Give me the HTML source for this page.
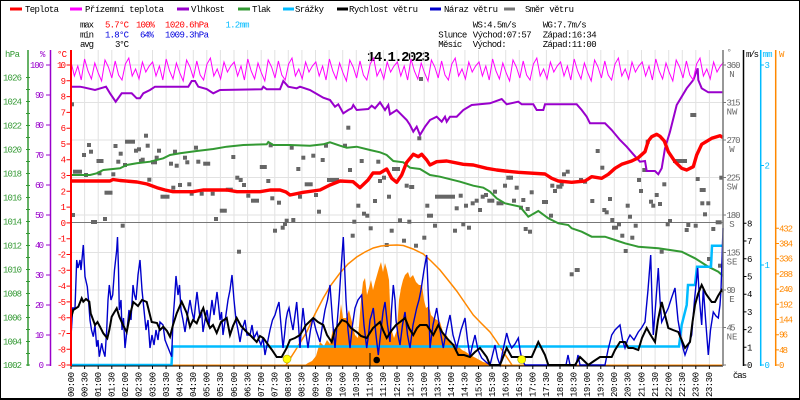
<!DOCTYPE html>
<html><head><meta charset="utf-8"><style>
html,body{margin:0;padding:0;background:#fff;}
svg{display:block;}
text{font-family:"Liberation Mono","DejaVu Sans Mono",monospace;font-size:9px;}
</style></head><body>
<svg width="800" height="400" viewBox="0 0 800 400" xmlns="http://www.w3.org/2000/svg">
<rect x="0" y="0" width="800" height="400" fill="#fff"/>
<!-- legend -->
<g>
<rect x="10" y="7.5" width="12" height="3" fill="#ff0000"/><text x="25" y="12" textLength="34">Teplota</text>
<rect x="70" y="7.5" width="12" height="3" fill="#ff00ff"/><text x="85" y="12" textLength="79">Přízemní teplota</text>
<rect x="177" y="7.5" width="12" height="3" fill="#9900cc"/><text x="191" y="12" textLength="34">Vlhkost</text>
<rect x="238" y="7.5" width="12" height="3" fill="#339933"/><text x="252" y="12" textLength="19">Tlak</text>
<rect x="283" y="7.5" width="11" height="3" fill="#00bbff"/><text x="295" y="12" textLength="29">Srážky</text>
<rect x="337" y="7.5" width="11" height="3" fill="#000"/><text x="349" y="12" textLength="69">Rychlost větru</text>
<rect x="430" y="7.5" width="11" height="3" fill="#0000cc"/><text x="444" y="12" textLength="54">Náraz větru</text>
<rect x="504" y="7.5" width="11" height="3" fill="#777"/><text x="525" y="12" textLength="49">Směr větru</text>
</g>
<!-- stats -->
<g>
<text x="80" y="27.3" textLength="14">max</text>
<text x="105" y="27.3" textLength="24" fill="#ff0000">5.7°C</text>
<text x="136" y="27.3" textLength="19" fill="#ff0000">100%</text>
<text x="165" y="27.3" textLength="44" fill="#ff0000">1020.6hPa</text>
<text x="225.5" y="27.3" textLength="24" fill="#00bbff">1.2mm</text>
<text x="80" y="37.3" textLength="14">min</text>
<text x="105" y="37.3" textLength="24" fill="#0000dd">1.8°C</text>
<text x="140" y="37.3" textLength="14" fill="#0000dd">64%</text>
<text x="165" y="37.3" textLength="44" fill="#0000dd">1009.3hPa</text>
<text x="80" y="46.8" textLength="14">avg</text>
<text x="115" y="46.8" textLength="14">3°C</text>
<text x="472.7" y="27.3" textLength="44">WS:4.5m/s</text>
<text x="542.7" y="27.3" textLength="44">WG:7.7m/s</text>
<text x="438.3" y="37.3" textLength="29">Slunce</text>
<text x="472.7" y="37.3" textLength="59">Východ:07:57</text>
<text x="542.7" y="37.3" textLength="54">Západ:16:34</text>
<text x="438.3" y="46.8" textLength="24">Měsíc</text>
<text x="472.7" y="46.8" textLength="34">Východ:</text>
<text x="542.7" y="46.8" textLength="54">Západ:11:00</text>
</g>
<text x="367" y="61" textLength="63" style="font-size:14px;font-weight:bold">14.1.2023</text>
<!-- unit headers -->
<text x="5" y="57" textLength="15" fill="#339933">hPa</text>
<text x="40" y="57" textLength="5" fill="#9900cc">%</text>
<text x="57" y="57" textLength="10" fill="#ff0000">°C</text>
<text x="726.5" y="55" fill="#777">°</text>
<text x="746" y="57" textLength="13">m/s</text>
<text x="762.5" y="57" textLength="10" fill="#00bbff">mm</text>
<text x="779" y="57" textLength="5" fill="#ff8800">W</text>
<!-- grid -->
<g stroke="#e2e2e2" stroke-width="1">
<path d="M84.6,50V365M98.2,50V365M111.8,50V365M125.3,50V365M138.9,50V365M152.5,50V365M166.1,50V365M179.7,50V365M193.3,50V365M206.8,50V365M220.4,50V365M234,50V365M247.6,50V365M261.2,50V365M274.8,50V365M288.3,50V365M301.9,50V365M315.5,50V365M329.1,50V365M342.7,50V365M356.3,50V365M369.8,50V365M383.4,50V365M397,50V365M410.6,50V365M424.2,50V365M437.8,50V365M451.3,50V365M464.9,50V365M478.5,50V365M492.1,50V365M505.7,50V365M519.3,50V365M532.8,50V365M546.4,50V365M560,50V365M573.6,50V365M587.2,50V365M600.8,50V365M614.3,50V365M627.9,50V365M641.5,50V365M655.1,50V365M668.7,50V365M682.3,50V365M695.8,50V365M709.4,50V365"/>
<path d="M71,65H723M71,102.5H723M71,140H723M71,177.5H723M71,215H723M71,252.5H723M71,290H723M71,327.5H723"/>
</g>
<path d="M71,222.5H723" stroke="#777" stroke-width="1"/>
<!-- wind direction squares -->
<g fill="#666">
<rect x="70" y="102.3" width="4" height="4"/><rect x="71" y="213" width="4" height="4"/><rect x="73" y="169.7" width="9" height="4"/><rect x="84" y="173" width="4" height="4"/><rect x="82" y="153" width="4" height="4"/><rect x="87" y="143" width="4" height="4"/><rect x="89" y="149.7" width="4" height="4"/><rect x="91" y="220" width="6" height="4"/><rect x="97.5" y="171.3" width="4" height="4"/><rect x="96.5" y="159" width="7" height="4"/><rect x="103" y="217" width="4" height="4"/><rect x="104.5" y="190.7" width="8" height="4"/><rect x="111.3" y="172.3" width="4" height="4"/><rect x="113.5" y="144" width="4" height="4"/><rect x="116.3" y="159.7" width="4" height="4"/><rect x="118.7" y="151.7" width="4" height="4"/><rect x="120.7" y="223.7" width="4" height="4"/><rect x="123" y="163" width="4" height="4"/><rect x="125" y="139.7" width="10" height="4"/><rect x="134" y="148.7" width="4" height="4"/><rect x="137" y="147.3" width="4" height="4"/><rect x="139" y="159" width="4" height="4"/><rect x="140.7" y="157.7" width="4" height="4"/><rect x="144" y="133.7" width="4" height="4"/><rect x="145.7" y="143.7" width="4" height="4"/><rect x="147.3" y="177.7" width="4" height="4"/><rect x="151" y="160.3" width="6" height="4"/><rect x="154.7" y="155.7" width="4" height="4"/><rect x="157" y="148.7" width="4" height="4"/><rect x="160.5" y="194.7" width="9" height="4"/><rect x="169" y="161.7" width="4" height="4"/><rect x="171.3" y="185.7" width="4" height="4"/><rect x="173" y="149.7" width="4" height="4"/><rect x="174.7" y="163.7" width="4" height="4"/><rect x="178" y="183" width="4" height="4"/><rect x="183" y="155.7" width="4" height="4"/><rect x="185.3" y="160.3" width="4" height="4"/><rect x="187.3" y="182.3" width="4" height="4"/><rect x="189.7" y="191.7" width="4" height="4"/><rect x="194" y="145.7" width="4" height="4"/><rect x="196.3" y="159.7" width="4" height="4"/><rect x="199.7" y="191.7" width="4" height="4"/><rect x="203.2" y="161.7" width="7" height="4"/><rect x="210.7" y="191.7" width="4" height="4"/><rect x="214" y="217" width="4" height="4"/><rect x="219.8" y="208.7" width="7" height="4"/><rect x="225.8" y="187.7" width="7" height="4"/><rect x="231.3" y="155" width="4" height="4"/><rect x="235.3" y="175.7" width="4" height="4"/><rect x="238.7" y="178" width="4" height="4"/><rect x="237" y="249.7" width="4" height="4"/><rect x="242" y="183" width="4" height="4"/><rect x="246.3" y="193.7" width="4" height="4"/><rect x="251" y="198.7" width="8" height="4"/><rect x="259.8" y="165" width="7" height="4"/><rect x="266.3" y="179" width="4" height="4"/><rect x="268.7" y="143.3" width="4" height="4"/><rect x="270.3" y="196.3" width="4" height="4"/><rect x="273" y="228.7" width="4" height="4"/><rect x="277" y="200.7" width="4" height="4"/><rect x="280.7" y="225.7" width="4" height="4"/><rect x="283" y="222" width="4" height="4"/><rect x="284.7" y="218.7" width="4" height="4"/>
<rect x="289.7" y="145.7" width="4" height="4"/><rect x="291.3" y="218" width="4" height="4"/><rect x="296.3" y="167" width="4" height="4"/><rect x="298" y="194.7" width="4" height="4"/><rect x="301.3" y="155.7" width="4" height="4"/><rect x="304.7" y="182.3" width="8" height="4"/><rect x="311.3" y="153.7" width="4" height="4"/><rect x="314" y="193" width="4" height="4"/><rect x="317" y="209.7" width="4" height="4"/><rect x="320.7" y="158" width="4" height="4"/><rect x="324" y="143.7" width="4" height="4"/><rect x="327" y="178" width="12" height="4"/><rect x="343" y="143.7" width="4" height="4"/><rect x="346.3" y="125.7" width="4" height="4"/><rect x="348" y="168" width="4" height="4"/><rect x="350.7" y="233.7" width="4" height="4"/><rect x="352.3" y="219.7" width="4" height="4"/><rect x="356.3" y="203.7" width="4" height="4"/><rect x="359.7" y="159" width="4" height="4"/><rect x="362" y="211.7" width="4" height="4"/><rect x="365.3" y="213.7" width="4" height="4"/><rect x="368.7" y="226.3" width="4" height="4"/><rect x="373" y="199" width="4" height="4"/><rect x="376.3" y="159.7" width="4" height="4"/><rect x="378" y="179" width="4" height="4"/><rect x="382" y="175.7" width="4" height="4"/><rect x="384.7" y="243" width="4" height="4"/><rect x="387" y="194.7" width="4" height="4"/><rect x="389.7" y="228.7" width="4" height="4"/><rect x="392" y="167" width="8" height="4"/><rect x="398" y="218.3" width="4" height="4"/><rect x="402" y="238.7" width="4" height="4"/><rect x="404.7" y="183.7" width="4" height="4"/><rect x="407.3" y="219.7" width="4" height="4"/><rect x="409.2" y="185" width="5" height="4"/><rect x="414" y="243.7" width="4" height="4"/><rect x="417.3" y="136.3" width="4" height="4"/><rect x="419" y="77" width="4" height="4"/><rect x="422.3" y="235.7" width="4" height="4"/><rect x="425.3" y="203.7" width="4" height="4"/><rect x="427" y="213.7" width="6" height="4"/><rect x="433" y="223.7" width="4" height="4"/><rect x="435" y="194.7" width="20" height="4"/><rect x="453" y="228.7" width="4" height="4"/><rect x="454.7" y="206.3" width="4" height="4"/><rect x="458.7" y="193.7" width="4" height="4"/><rect x="461.3" y="222.3" width="4" height="4"/><rect x="464" y="203.7" width="4" height="4"/><rect x="467" y="225.7" width="4" height="4"/><rect x="470.7" y="201.3" width="4" height="4"/><rect x="474.7" y="198.7" width="4" height="4"/><rect x="478" y="208" width="4" height="4"/><rect x="480.7" y="194.7" width="4" height="4"/><rect x="484" y="193" width="4" height="4"/><rect x="487.3" y="198.7" width="7" height="4"/><rect x="493" y="189.7" width="4" height="4"/><rect x="496.5" y="201.3" width="7" height="4"/><rect x="503" y="183.7" width="4" height="4"/><rect x="506.3" y="175.7" width="4" height="4"/>
<rect x="509" y="175.7" width="4" height="4"/><rect x="514.7" y="185.7" width="4" height="4"/><rect x="512" y="198.7" width="4" height="4"/><rect x="519" y="205.7" width="4" height="4"/><rect x="521.3" y="198" width="4" height="4"/><rect x="523.7" y="227" width="4" height="4"/><rect x="525.7" y="207" width="4" height="4"/><rect x="528" y="229.7" width="4" height="4"/><rect x="529.7" y="190.3" width="4" height="4"/><rect x="542" y="200" width="6" height="4"/><rect x="549" y="213.7" width="4" height="4"/><rect x="550.3" y="183.7" width="4" height="4"/><rect x="553" y="189" width="4" height="4"/><rect x="556.3" y="184.7" width="6" height="4"/><rect x="559.7" y="182.3" width="4" height="4"/><rect x="562" y="172.3" width="4" height="4"/><rect x="565.7" y="169.7" width="4" height="4"/><rect x="569.7" y="272.3" width="4" height="4"/><rect x="574.7" y="268" width="5" height="4"/><rect x="579" y="178" width="4" height="4"/><rect x="583" y="179.7" width="4" height="4"/><rect x="590.3" y="199" width="4" height="4"/><rect x="595.7" y="149" width="4" height="4"/><rect x="600.3" y="165.7" width="4" height="4"/><rect x="602.3" y="208" width="4" height="4"/><rect x="604.7" y="210.3" width="4" height="4"/><rect x="608" y="197" width="4" height="4"/><rect x="610.3" y="218" width="4" height="4"/><rect x="612" y="225.7" width="6" height="4"/><rect x="617" y="222.3" width="4" height="4"/><rect x="620.3" y="233.7" width="4" height="4"/><rect x="623.7" y="249" width="4" height="4"/><rect x="625.7" y="203.7" width="4" height="4"/><rect x="628" y="214.7" width="4" height="4"/><rect x="630.3" y="235.7" width="4" height="4"/><rect x="633.7" y="223.7" width="4" height="4"/><rect x="637" y="178" width="4" height="4"/><rect x="639" y="189" width="4" height="4"/><rect x="642.3" y="168" width="4" height="4"/><rect x="645.7" y="139.7" width="4" height="4"/><rect x="649" y="199.7" width="4" height="4"/><rect x="651.3" y="203.7" width="4" height="4"/><rect x="654.7" y="193" width="4" height="4"/><rect x="658" y="202" width="4" height="4"/><rect x="659.7" y="249.7" width="4" height="4"/><rect x="662.3" y="182.3" width="4" height="4"/><rect x="665.7" y="222.3" width="4" height="4"/><rect x="668" y="219" width="4" height="4"/><rect x="673" y="159" width="14" height="4"/><rect x="684.7" y="228" width="4" height="4"/><rect x="686.3" y="223" width="4" height="4"/><rect x="690.3" y="113" width="6" height="4"/><rect x="693.7" y="223.7" width="4" height="4"/><rect x="695.7" y="177" width="4" height="4"/><rect x="699.7" y="188" width="6" height="4"/><rect x="700.3" y="201.3" width="4" height="4"/><rect x="703" y="212.3" width="4" height="4"/><rect x="706.3" y="201.3" width="4" height="4"/><rect x="707" y="257" width="4" height="4"/><rect x="711.3" y="227" width="4" height="4"/><rect x="715.7" y="220.3" width="6" height="4"/><rect x="718" y="263.7" width="4" height="4"/><rect x="719.3" y="175.7" width="4" height="4"/>
</g>
<!-- solar radiation fill -->
<path d="M305,365 L308,363 312,361 316,356 320,342 324,346 327,340 330,344 333,328 336,335 339,322 341,304 343,318 346,318 349,310 352,322 355,335 358,338 361,300 363,282 365,278 367,295 369,288 371,280 373,290 375,282 377,275 379,268 381,262 383,272 385,263 387,270 389,280 391,328 394,338 397,330 399,300 401,288 403,280 405,275 408,272 410,278 413,275 416,282 419,285 422,285 424,300 426,308 429,306 431,315 434,318 437,320 440,322 443,332 447,336 450,342 454,344 457,345 462,350 466,352 470,355 476,358 483,362 490,364 497,365 Z" fill="#ff8800"/>
<path d="M71,365.3H723" stroke="#ff8800" stroke-width="1.5"/>
<!-- theoretical solar curve -->
<polyline fill="none" stroke="#ff8800" stroke-width="1.5" points="286,365 295,351 306.7,332 315,314 323.3,298 331,285 340,273 348,264 356.7,257 365,252 373.3,248 381,246 390,245.3 397,245 403.3,245.5 413,249 423.3,254 431,261 440,270 448,280 456.7,291 465,303 473.3,315 481,323 490,332 497,342 503.3,352 512,365"/>
<!-- pressure -->
<polyline fill="none" stroke="#339933" stroke-width="2" points="71,175 90,175 96.7,173.3 103.3,170 120,168.3 126.7,165 136.7,163.3 150,161.7 163.3,158.3 170,155 180,153.3 196.7,151 213.3,149 226.7,146.7 243.3,145 266.7,144.3 268.3,142 273.3,145 290,145 310,145.7 323.3,144.3 330,142.3 340,145.7 346.7,147.7 356.7,146.7 370,150 380,152.3 386.7,155 393.3,161 403.3,162.3 410,167.7 420,169 430,175 440,176.7 460,181.7 473.3,185.7 483.3,187.7 490,191.7 496.7,198.3 505,203.3 520,206.7 528.3,216.7 538.3,211 548.3,218.3 558.3,223.3 568.3,225 571.7,228.3 581.7,231.7 591.7,236.7 605,236.7 615,240 625,243.3 638.3,246.7 658.3,248.3 681.7,251.7 695,258.3 708.3,266.7 718.3,271.7 723,276"/>
<!-- humidity -->
<polyline fill="none" stroke="#9900cc" stroke-width="2" points="71,86.7 80,86.7 83.3,87.3 95,90 106,86.7 110,93.3 115.7,101.7 121.7,93.3 131.7,93.3 136.7,98.3 140,98.3 143.3,93.3 150,90 155,86.7 188.3,86.7 191.7,81 195,81 198.3,86.7 206.7,89 213.3,93.3 220,90 261.7,89.3 263.3,86.7 266.7,89.3 280,89.3 283.3,81 288.3,86.7 296.7,88.3 300,86.7 310,90 323.3,97.7 330,100 335,106.7 338.3,104.3 343.3,113.3 348.3,110 351.7,108.3 353.3,105 356.7,110 368.3,109 371.7,105.7 375,108.3 380,102.3 385,110 388.3,105 390,114.3 396.7,110 400,113.3 406.7,120 410,125 413.3,131.7 416.7,126.7 420,135 425,126.7 430,120 436.7,116.7 441.7,121.7 445,116.7 446.7,121.7 450,116.7 456.7,116.7 463.3,110 471.7,105 490,103.3 501.7,99 506.7,104.3 518.3,101.7 521.7,104.3 533.3,104.3 536.7,110 543.3,110 545,104.3 576.7,104.3 581.7,110 586.7,116.7 590,123.3 605,123.3 611.7,130 620,140 626.7,146.7 633.3,154.3 640,161.7 645,161 646.7,171 655,171 658.3,174.3 661.7,168.3 665,148.3 670,131.7 676.7,105 686.7,88.3 693.3,80 697.7,68.3 698.3,80 701.7,88.3 708.3,92.3 723,92.3"/>
<!-- ground temperature (8 periods x 24 segments) -->
<path fill="none" stroke="#ff00ff" stroke-width="1" d="M71,62
l3.4,14 l3.4,-10 l3.4,14 l3.4,-21 l3.4,12 l3.4,8 l3.4,-16 l3.4,10 l3.4,8 l3.4,-21 l3.4,7 l3.4,11 l3.4,-17 l3.4,14 l3.4,5 l3.4,-16 l3.4,-6 l3.4,18 l3.4,-7 l3.4,10 l3.4,-17 l3.4,10 l3.4,-6 l3.4,-4
l3.4,14 l3.4,-10 l3.4,14 l3.4,-21 l3.4,12 l3.4,8 l3.4,-16 l3.4,10 l3.4,8 l3.4,-21 l3.4,7 l3.4,11 l3.4,-17 l3.4,14 l3.4,5 l3.4,-16 l3.4,-6 l3.4,18 l3.4,-7 l3.4,10 l3.4,-17 l3.4,10 l3.4,-6 l3.4,-4
l3.4,14 l3.4,-10 l3.4,14 l3.4,-21 l3.4,12 l3.4,8 l3.4,-16 l3.4,10 l3.4,8 l3.4,-21 l3.4,7 l3.4,11 l3.4,-17 l3.4,14 l3.4,5 l3.4,-16 l3.4,-6 l3.4,18 l3.4,-7 l3.4,10 l3.4,-17 l3.4,10 l3.4,-6 l3.4,-4
l3.4,14 l3.4,-10 l3.4,14 l3.4,-21 l3.4,12 l3.4,8 l3.4,-16 l3.4,10 l3.4,8 l3.4,-21 l3.4,7 l3.4,11 l3.4,-17 l3.4,14 l3.4,5 l3.4,-16 l3.4,-6 l3.4,18 l3.4,-7 l3.4,10 l3.4,-17 l3.4,10 l3.4,-6 l3.4,-4
l3.4,14 l3.4,-10 l3.4,14 l3.4,-21 l3.4,12 l3.4,8 l3.4,-16 l3.4,10 l3.4,8 l3.4,-21 l3.4,7 l3.4,11 l3.4,-17 l3.4,14 l3.4,5 l3.4,-16 l3.4,-6 l3.4,18 l3.4,-7 l3.4,10 l3.4,-17 l3.4,10 l3.4,-6 l3.4,-4
l3.4,14 l3.4,-10 l3.4,14 l3.4,-21 l3.4,12 l3.4,8 l3.4,-16 l3.4,10 l3.4,8 l3.4,-21 l3.4,7 l3.4,11 l3.4,-17 l3.4,14 l3.4,5 l3.4,-16 l3.4,-6 l3.4,18 l3.4,-7 l3.4,10 l3.4,-17 l3.4,10 l3.4,-6 l3.4,-4
l3.4,14 l3.4,-10 l3.4,14 l3.4,-21 l3.4,12 l3.4,8 l3.4,-16 l3.4,10 l3.4,8 l3.4,-21 l3.4,7 l3.4,11 l3.4,-17 l3.4,14 l3.4,5 l3.4,-16 l3.4,-6 l3.4,18 l3.4,-7 l3.4,10 l3.4,-17 l3.4,10 l3.4,-6 l3.4,-4
l3.4,14 l3.4,-10 l3.4,14 l3.4,-21 l3.4,12 l3.4,8 l3.4,-16 l3.4,10 l3.4,8 l3.4,-21 l3.4,7 l3.4,11 l3.4,-17 l3.4,14 l3.4,5 l3.4,-16 l3.4,-6 l3.4,18 l3.4,-7 l3.4,10 l3.4,-17 l3.4,10 l3.4,-6 l3.4,-4"/>
<!-- temperature -->
<polyline fill="none" stroke="#ff0000" stroke-width="3.4" stroke-linejoin="round" points="71,181 110,181 113,179.5 120,180.5 137,182 147,184 157,187.7 165,190 173,191.7 193,191.7 203,190 227,190 237,191.7 260,191.7 270,190 280,190 286,192 290,195 303.3,192.3 320,190 330,185 340,181 353,181.7 360,187.7 368,180 373,173 380,173 386.7,169 391.7,178.3 396.7,182.3 401.7,175 406.7,162.3 413.3,154.3 418.3,156.7 421.7,154.3 426.7,160 430,165 436.7,161.7 446.7,161 463.3,164.3 473.3,165 486.7,168.3 496.7,170 505,171 518.3,172.3 545,174 551.7,178.3 558.3,181 571.7,182.3 585,181 591.7,176.7 601.7,178.3 608.3,174.3 615,168.3 621.7,164.3 631.7,161 638.3,157.7 645,151.7 648.3,141 651.7,136.7 656.7,134.3 660,136.3 664.3,141 668.3,151.7 675,161.7 681.7,168.3 686.7,170 693.3,166.7 696.7,155 701.7,144.3 711.7,138.3 720,135.7 723,137.5"/>
<!-- rain cumulative -->
<polyline fill="none" stroke="#00bbff" stroke-width="2.5" points="71,365 171.5,365 172.5,346.5 679,346.5 681.7,325 686.7,305 688,285 695,285 697,266.7 711,266.7 712,245.7 723,245.7"/>
<!-- wind gust -->
<polyline fill="none" stroke="#0000cc" stroke-width="1.4" points="71,336.7 72,320 72.7,308 75,308 76.7,260 78,268 80,260 81,270 83.3,245 85,276.7 87.3,286.7 88.5,300 90,320 91.5,330 93.3,336.7 95,325 96.7,346.7 98,340 99.3,356.7 101.7,343.3 103,350 105,356.7 106.7,330 108,300 109.3,285 111,300 112.7,295 114.5,270 116.7,250 117.5,237 118.5,270 119.3,310 121,300 122,330 123.5,318 125,348 127,330 129,310 131,320 133,285 134.5,295 136,300 138,275 140,260 142,290 144,310 146,330 148,320 150,348 152,335 154,345 156,330 158,340 160,322 163,325 165,340 167,345 169,350 171.7,356.7 173,320 174.5,300 176,276 178,295 179.5,285 181,310 183,320 185,332 187,318 190,300 192,312 194,320 195.5,305 197,292 198.5,305 200,318 201.5,310 203,332 205,320 207,310 209,325 212,300 214,315 217,292 218.5,305 220,320 221.5,312 223,335 225.5,318 228,300 230,290 232,275 234,300 236,320 238,330 240,342 242,330 245,320 247,335 250,335 252,325 254,338 257,332 259,340 261,345 263,338 265,355 267,345 270,330 272.5,320 275,315 277,308 279,302 281,325 283,348 284.5,335 286,320 287.5,312 289,308 291,320 293,330 295,315 296.7,302 298.5,325 300,348 301.5,325 303,308 305.5,330 308,348 310.5,330 313,318 316,330 320,342 322.5,325 325,310 327.5,300 330,285 332.5,320 335,348 337,325 339,300 341,270 343.3,237 344.5,265 346,300 348,330 350,348 352.5,325 355,308 358,300 361.7,295 364,325 366.7,348 368.5,335 370,320 371.5,315 373.3,308 376,335 378.3,355 381,330 383,312 385,302 387.5,325 390,342 391.5,310 393.3,285 395,300 396,320 398,335 400,345 402.5,325 405,312 407.5,335 410,348 413,325 416.7,308 419,300 421,290 424,270 426.7,255 428.5,300 430,348 433,325 436.7,308 440,330 443.3,348 446.5,330 450,315 453,335 456.7,348 461,330 465,318 467.5,340 470,357 472.5,345 475,335 478,350 481.7,358 486,362 490,365 492.5,355 495,345 497.5,358 500,365 503,350 506.7,333 509,342 511.7,348 515,344 518.3,338 520,350 522,360 525,365 566,365 568,355 570,365 576,365 578,355 580,365 605,365 608,350 611.7,335 615,330 620,325 622.5,340 625,348 627.5,340 630,335 634,340 638.3,332 641.5,328 645,322 648,290 650.7,255 652,300 653.3,335 656,300 658.3,268 660,300 661.7,322 665,315 668.3,308 671.5,298 675,288 678,320 681.7,342 683.5,350 685,355 688.5,345 691.7,335 694.5,300 697.7,268 699.5,300 701.7,325 702.5,305 703.3,288 706,325 708.3,355 710.5,330 713.3,312 716,316 718.3,318 720,305 721,290 722,260 723,228"/>
<!-- wind speed -->
<polyline fill="none" stroke="#000" stroke-width="2" points="71,318 73.3,310 78.3,306.7 81.7,298.3 83.3,301.7 86,299 89.3,301.7 90.7,313.3 95,325 97.5,322 100,326.7 103.3,333.3 107.3,338.3 109.3,330 111.7,316.7 116.7,308.3 119.3,316.7 123,325 126.7,332 130,315 133.3,302 138,306 142,300 146.7,302 151.7,322 157,323 160,330 163.3,326.7 167,331 170,336.7 173,325 176.7,313.3 181.7,301.7 186.7,313 190,326.7 193,320 196.7,323.3 200,315 203.3,308 206.5,320 210,328 213,325 216.7,333 221,322 226.7,318 230,335 233,326 236.7,318 241,326 246.7,332 251,336 256.7,342 260,336 263.3,338 268.3,345 272,350 276.7,357 281.7,357 286.7,348 290,340 295,338 300,335 306,325 313.3,318 318,322 323.3,325 327,335 331.7,342 335,330 338.3,325 342,320 346.7,322 351,328 356.7,332 361,336 366.7,338 373,328 380,322 383,330 386.7,338 392,330 396,325 400,322 405,318 409,328 413.3,335 417,328 420,325 426.7,325 430,330 433.3,335 438.3,325 442,332 446.7,338 453.3,345 458.3,355 464,355 470,357 475,352 480,348 486.7,357 490,365 500,365 506.7,348 511.7,357 521,357 531.7,357 538.3,342 545,355 548.3,365 575,365 580,357 588.3,365 594,361 600,357 611.7,357 615,350 620,342 625,342 628.3,348 633,348 638.3,350 642,338 646.7,328 650,334 655,342 658,320 661.7,302 665,315 668.3,328 673,330 678.3,332 685,348 690,342 692.5,322 695,305 698,294 701.7,285 706,294 711.7,302 715,302 718,296 721.7,290 723,292"/>
<!-- sun / moon markers -->
<circle cx="287" cy="359" r="4" fill="#ffff00" stroke="#aa9900" stroke-width="0.6"/>
<circle cx="521.7" cy="359.5" r="4" fill="#ffff00" stroke="#aa9900" stroke-width="0.6"/>
<path d="M370,353V366" stroke="#000" stroke-width="1"/>
<circle cx="376.7" cy="360" r="3.3" fill="#000"/>
<!-- x axis -->
<path d="M71,366H723" stroke="#000" stroke-width="1"/>
<g stroke="#000" stroke-width="1">
<path d="M71,366V369M84.6,366V369M98.2,366V369M111.8,366V369M125.3,366V369M138.9,366V369M152.5,366V369M166.1,366V369M179.7,366V369M193.3,366V369M206.8,366V369M220.4,366V369M234,366V369M247.6,366V369M261.2,366V369M274.8,366V369M288.3,366V369M301.9,366V369M315.5,366V369M329.1,366V369M342.7,366V369M356.3,366V369M369.8,366V369M383.4,366V369M397,366V369M410.6,366V369M424.2,366V369M437.8,366V369M451.3,366V369M464.9,366V369M478.5,366V369M492.1,366V369M505.7,366V369M519.3,366V369M532.8,366V369M546.4,366V369M560,366V369M573.6,366V369M587.2,366V369M600.8,366V369M614.3,366V369M627.9,366V369M641.5,366V369M655.1,366V369M668.7,366V369M682.3,366V369M695.8,366V369M709.4,366V369"/>
</g>
<g style="font-size:8.5px">
<text transform="translate(73.8,397) rotate(-90)" textLength="25">00:00</text>
<text transform="translate(87.4,397) rotate(-90)" textLength="25">00:30</text>
<text transform="translate(101,397) rotate(-90)" textLength="25">01:00</text>
<text transform="translate(114.6,397) rotate(-90)" textLength="25">01:30</text>
<text transform="translate(128.1,397) rotate(-90)" textLength="25">02:00</text>
<text transform="translate(141.7,397) rotate(-90)" textLength="25">02:30</text>
<text transform="translate(155.3,397) rotate(-90)" textLength="25">03:00</text>
<text transform="translate(168.9,397) rotate(-90)" textLength="25">03:30</text>
<text transform="translate(182.5,397) rotate(-90)" textLength="25">04:00</text>
<text transform="translate(196.1,397) rotate(-90)" textLength="25">04:30</text>
<text transform="translate(209.6,397) rotate(-90)" textLength="25">05:00</text>
<text transform="translate(223.2,397) rotate(-90)" textLength="25">05:30</text>
<text transform="translate(236.8,397) rotate(-90)" textLength="25">06:00</text>
<text transform="translate(250.4,397) rotate(-90)" textLength="25">06:30</text>
<text transform="translate(264,397) rotate(-90)" textLength="25">07:00</text>
<text transform="translate(277.6,397) rotate(-90)" textLength="25">07:30</text>
<text transform="translate(291.1,397) rotate(-90)" textLength="25">08:00</text>
<text transform="translate(304.7,397) rotate(-90)" textLength="25">08:30</text>
<text transform="translate(318.3,397) rotate(-90)" textLength="25">09:00</text>
<text transform="translate(331.9,397) rotate(-90)" textLength="25">09:30</text>
<text transform="translate(345.5,397) rotate(-90)" textLength="25">10:00</text>
<text transform="translate(359.1,397) rotate(-90)" textLength="25">10:30</text>
<text transform="translate(372.6,397) rotate(-90)" textLength="25">11:00</text>
<text transform="translate(386.2,397) rotate(-90)" textLength="25">11:30</text>
<text transform="translate(399.8,397) rotate(-90)" textLength="25">12:00</text>
<text transform="translate(413.4,397) rotate(-90)" textLength="25">12:30</text>
<text transform="translate(427,397) rotate(-90)" textLength="25">13:00</text>
<text transform="translate(440.6,397) rotate(-90)" textLength="25">13:30</text>
<text transform="translate(454.1,397) rotate(-90)" textLength="25">14:00</text>
<text transform="translate(467.7,397) rotate(-90)" textLength="25">14:30</text>
<text transform="translate(481.3,397) rotate(-90)" textLength="25">15:00</text>
<text transform="translate(494.9,397) rotate(-90)" textLength="25">15:30</text>
<text transform="translate(508.5,397) rotate(-90)" textLength="25">16:00</text>
<text transform="translate(522.1,397) rotate(-90)" textLength="25">16:30</text>
<text transform="translate(535.6,397) rotate(-90)" textLength="25">17:00</text>
<text transform="translate(549.2,397) rotate(-90)" textLength="25">17:30</text>
<text transform="translate(562.8,397) rotate(-90)" textLength="25">18:00</text>
<text transform="translate(576.4,397) rotate(-90)" textLength="25">18:30</text>
<text transform="translate(590,397) rotate(-90)" textLength="25">19:00</text>
<text transform="translate(603.6,397) rotate(-90)" textLength="25">19:30</text>
<text transform="translate(617.1,397) rotate(-90)" textLength="25">20:00</text>
<text transform="translate(630.7,397) rotate(-90)" textLength="25">20:30</text>
<text transform="translate(644.3,397) rotate(-90)" textLength="25">21:00</text>
<text transform="translate(657.9,397) rotate(-90)" textLength="25">21:30</text>
<text transform="translate(671.5,397) rotate(-90)" textLength="25">22:00</text>
<text transform="translate(685.1,397) rotate(-90)" textLength="25">22:30</text>
<text transform="translate(698.6,397) rotate(-90)" textLength="25">23:00</text>
<text transform="translate(712.2,397) rotate(-90)" textLength="25">23:30</text>
</g>
<text x="733" y="378" textLength="14">čas</text>
<!-- left axes -->
<path d="M28,50V366" stroke="#339933" stroke-width="1.5"/>
<path d="M50.5,50V366" stroke="#9900cc" stroke-width="1.5"/>
<path d="M71,50V366" stroke="#ff0000" stroke-width="2"/>
<g stroke="#339933" stroke-width="1"><path d="M26,77.5H30M26,89.5H30M26,101.5H30M26,113.5H30M26,125.5H30M26,137.5H30M26,149.5H30M26,161.5H30M26,173.5H30M26,185.5H30M26,197.5H30M26,209.5H30M26,221.5H30M26,233.5H30M26,245.5H30M26,257.5H30M26,269.5H30M26,281.5H30M26,293.5H30M26,305.5H30M26,317.5H30M26,329.5H30M26,341.5H30M26,353.5H30M26,365H30"/></g>
<g fill="#339933">
<text x="3" y="80.5" textLength="19">1026</text><text x="3" y="104.5" textLength="19">1024</text><text x="3" y="128.5" textLength="19">1022</text><text x="3" y="152.5" textLength="19">1020</text><text x="3" y="176.5" textLength="19">1018</text><text x="3" y="200.5" textLength="19">1016</text><text x="3" y="224.5" textLength="19">1014</text><text x="3" y="248.5" textLength="19">1012</text><text x="3" y="272.5" textLength="19">1010</text><text x="3" y="296.5" textLength="19">1008</text><text x="3" y="320.5" textLength="19">1006</text><text x="3" y="344.5" textLength="19">1004</text><text x="3" y="368" textLength="19">1002</text>
</g>
<g stroke="#9900cc" stroke-width="1"><path d="M46,65H50M46,95H50M46,125H50M46,155H50M46,185H50M46,215H50M46,245H50M46,275H50M46,305H50M46,335H50M46,365H50"/></g>
<g fill="#9900cc" text-anchor="end">
<text x="44" y="68" textLength="14">100</text><text x="44" y="98" textLength="9">90</text><text x="44" y="128" textLength="9">80</text><text x="44" y="158" textLength="9">70</text><text x="44" y="188" textLength="9">60</text><text x="44" y="218" textLength="9">50</text><text x="44" y="248" textLength="9">40</text><text x="44" y="278" textLength="9">30</text><text x="44" y="308" textLength="9">20</text><text x="44" y="338" textLength="9">10</text><text x="44" y="368" textLength="4">0</text>
</g>
<g stroke="#ff0000" stroke-width="1"><path d="M66.5,65H71M66.5,80.8H71M66.5,96.6H71M66.5,112.4H71M66.5,128.2H71M66.5,144H71M66.5,159.7H71M66.5,175.5H71M66.5,191.3H71M66.5,207.1H71M66.5,222.9H71M66.5,238.7H71M66.5,254.5H71M66.5,270.3H71M66.5,286.1H71M66.5,301.9H71M66.5,317.7H71M66.5,333.5H71M66.5,349.3H71M66.5,365H71"/></g>
<g fill="#ff0000" text-anchor="end">
<text x="66" y="68" textLength="9">10</text><text x="66" y="83.8" textLength="4">9</text><text x="66" y="99.6" textLength="4">8</text><text x="66" y="115.4" textLength="4">7</text><text x="66" y="131.2" textLength="4">6</text><text x="66" y="147" textLength="4">5</text><text x="66" y="162.7" textLength="4">4</text><text x="66" y="178.5" textLength="4">3</text><text x="66" y="194.3" textLength="4">2</text><text x="66" y="210.1" textLength="4">1</text><text x="66" y="225.9" textLength="4">0</text><text x="66" y="241.7" textLength="9">-1</text><text x="66" y="257.5" textLength="9">-2</text><text x="66" y="273.3" textLength="9">-3</text><text x="66" y="289.1" textLength="9">-4</text><text x="66" y="304.9" textLength="9">-5</text><text x="66" y="320.7" textLength="9">-6</text><text x="66" y="336.5" textLength="9">-7</text><text x="66" y="352.3" textLength="9">-8</text><text x="66" y="368" textLength="9">-9</text>
</g>
<!-- right axes -->
<path d="M723,50V366" stroke="#777" stroke-width="1.5"/>
<g stroke="#777" stroke-width="1"><path d="M723,65H726M723,102.5H726M723,140H726M723,177.5H726M723,215H726M723,252.5H726M723,290H726M723,327.5H726M723,365H726"/></g>
<g fill="#666">
<text x="726.5" y="68" textLength="14">360</text><text x="732" y="77" text-anchor="middle">N</text>
<text x="726.5" y="105.5" textLength="14">315</text><text x="732" y="114.5" text-anchor="middle">NW</text>
<text x="726.5" y="143" textLength="14">270</text><text x="732" y="152" text-anchor="middle">W</text>
<text x="726.5" y="180.5" textLength="14">225</text><text x="732" y="189.5" text-anchor="middle">SW</text>
<text x="726.5" y="218" textLength="14">180</text><text x="732" y="227" text-anchor="middle">S</text>
<text x="726.5" y="255.5" textLength="14">135</text><text x="732" y="264.5" text-anchor="middle">SE</text>
<text x="726.5" y="293" textLength="9">90</text><text x="732" y="302" text-anchor="middle">E</text>
<text x="726.5" y="330.5" textLength="9">45</text><text x="732" y="339.5" text-anchor="middle">NE</text>
</g>
<path d="M743.5,50V366" stroke="#000" stroke-width="1.5"/>
<g stroke="#000" stroke-width="1"><path d="M743.5,223.3H746.5M743.5,241H746.5M743.5,258.8H746.5M743.5,276.5H746.5M743.5,294.2H746.5M743.5,311.9H746.5M743.5,329.6H746.5M743.5,347.3H746.5M743.5,365H746.5"/></g>
<g>
<text x="747" y="226.3">8</text><text x="747" y="244">7</text><text x="747" y="261.8">6</text><text x="747" y="279.5">5</text><text x="747" y="297.2">4</text><text x="747" y="314.9">3</text><text x="747" y="332.6">2</text><text x="747" y="350.3">1</text><text x="747" y="368">0</text>
</g>
<path d="M760.7,50V366" stroke="#00bbff" stroke-width="1.5"/>
<g stroke="#00bbff" stroke-width="1"><path d="M760.7,65H764M760.7,165.5H764M760.7,265H764M760.7,365H764"/></g>
<g fill="#00bbff">
<text x="764.5" y="68">3</text><text x="764.5" y="168.5">2</text><text x="764.5" y="268">1</text><text x="764.5" y="368">0</text>
</g>
<path d="M775.7,50V366" stroke="#ff8800" stroke-width="1.5"/>
<g stroke="#ff8800" stroke-width="1"><path d="M775.7,228.3H779M775.7,243.5H779M775.7,258.7H779M775.7,273.9H779M775.7,289.1H779M775.7,304.3H779M775.7,319.5H779M775.7,334.7H779M775.7,349.9H779M775.7,365H779"/></g>
<g fill="#ff8800">
<text x="779" y="231.3" textLength="14">432</text><text x="779" y="246.5" textLength="14">384</text><text x="779" y="261.7" textLength="14">336</text><text x="779" y="276.9" textLength="14">288</text><text x="779" y="292.1" textLength="14">240</text><text x="779" y="307.3" textLength="14">192</text><text x="779" y="322.5" textLength="14">144</text><text x="779" y="337.7" textLength="9">96</text><text x="779" y="352.9" textLength="9">48</text><text x="779" y="368">0</text>
</g>
<!-- frame -->
<rect x="0.5" y="0.5" width="799" height="399" fill="none" stroke="#000" stroke-width="1"/>
<path d="M0,398.5H800" stroke="#000" stroke-width="1"/>
</svg>
</body></html>
